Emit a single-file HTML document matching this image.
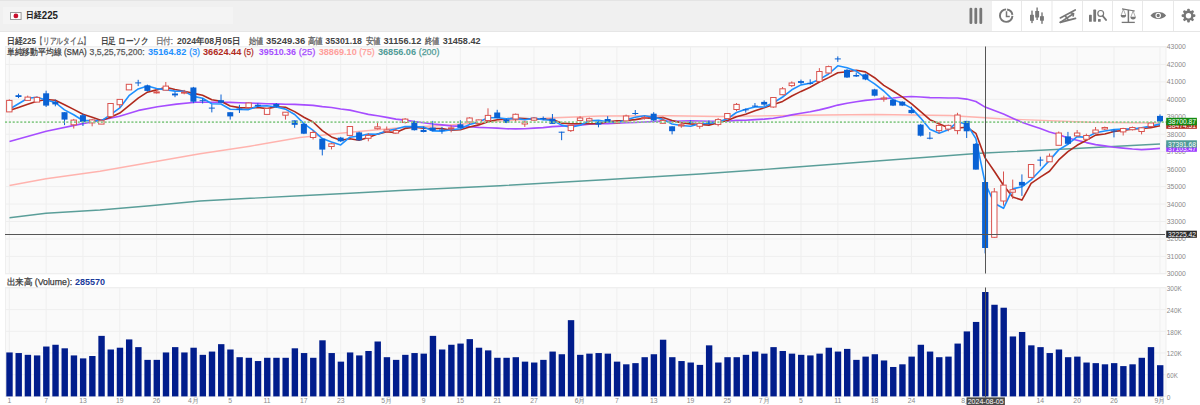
<!DOCTYPE html>
<html><head><meta charset="utf-8">
<style>
html,body{margin:0;padding:0;width:1200px;height:405px;overflow:hidden;background:#fff;font-family:"Liberation Sans",sans-serif;}
svg{position:absolute;left:0;top:0;}
text{font-family:"Liberation Sans",sans-serif;}
</style></head><body>
<svg width="1200" height="405" viewBox="0 0 1200 405">
<!-- header -->
<rect x="0" y="0" width="1200" height="32" fill="#f0f0f0"/>
<rect x="0" y="0" width="1200" height="1" fill="#e4e4e4"/>
<rect x="0" y="31" width="1200" height="1" fill="#e6e6e6"/>
<rect x="3" y="7" width="230" height="17" fill="#f4f4f4"/>
<rect x="10.5" y="12.5" width="10.6" height="7" fill="#fff" stroke="#9a9a9a" stroke-width="1"/>
<circle cx="15.9" cy="15.9" r="2.4" fill="#c8102e"/>
<text x="25.9" y="18.4" font-size="9.4" font-weight="bold" fill="#222" textLength="15.6" lengthAdjust="spacingAndGlyphs">日経</text>
<text x="41.8" y="19" font-size="10" font-weight="bold" fill="#222" textLength="16.2" lengthAdjust="spacingAndGlyphs">225</text>
<rect x="992" y="1" width="208" height="30" fill="#fff"/>
<g fill="#e8e8e8">
<rect x="1021" y="1" width="1" height="30"/><rect x="1051.5" y="1" width="1" height="30"/>
<rect x="1082" y="1" width="1" height="30"/><rect x="1112" y="1" width="1" height="30"/>
<rect x="1142" y="1" width="1" height="30"/><rect x="1173" y="1" width="1" height="30"/>
</g>
<g fill="#777" stroke="none">
<rect x="969.5" y="7.8" width="2.8" height="16.2" rx="1.3"/>
<rect x="974.4" y="7.8" width="2.8" height="16.2" rx="1.3"/>
<rect x="979.4" y="7.8" width="2.8" height="16.2" rx="1.3"/>
</g>
<g stroke="#777" fill="none">
<path d="M1006.1,9.4 A6.25,6.25 0 1 0 1012.45,15.9" stroke-width="1.9"/>
<path d="M1007.1,9.5 A6.25,6.25 0 0 1 1012.4,14.9" stroke-width="1.9"/>
<path d="M1006.5,11.3 V16.4 H1009.8" stroke-width="1.5"/>
</g>
<g fill="#777">
<rect x="1031.3" y="10.6" width="1.4" height="12.5"/><rect x="1030" y="14.8" width="3.9" height="6"/>
<rect x="1036.4" y="7.5" width="1.4" height="12.5"/><rect x="1035.2" y="11" width="3.9" height="6.5"/>
<rect x="1041.3" y="12.4" width="1.4" height="11.4"/><rect x="1040" y="16.2" width="3.9" height="4.5"/>
</g>
<g stroke="#777" fill="none" stroke-width="1.7" stroke-linecap="round">
<path d="M1060.3,17.9 L1075.2,9.9"/>
<path d="M1060.3,22.4 L1075.5,18.4"/>
<path d="M1060.3,22.4 L1073.4,13.7"/>
<path d="M1065.5,16.3 L1068.2,19.8"/>
<path d="M1071,12.8 L1073.4,13.7 L1073.2,16"/>
</g>
<g fill="#777">
<rect x="1089" y="14.8" width="2.8" height="7" rx="0.6"/>
<rect x="1093.3" y="9.6" width="2.8" height="12.1" rx="0.6"/>
<rect x="1098" y="18.9" width="2.7" height="2.8" rx="0.5"/>
</g>
<circle cx="1100.7" cy="13.4" r="2.9" fill="none" stroke="#777" stroke-width="1.2"/>
<path d="M1102.8,16 L1106,19.9" stroke="#777" stroke-width="1.9" stroke-linecap="round"/>
<g stroke="#777" fill="none">
<path d="M1122,8.9 L1134.8,11" stroke-width="1.2"/>
<path d="M1128.4,10 V22.4" stroke-width="1.5"/>
<path d="M1121.7,22.4 H1134.8" stroke-width="1.3"/>
<path d="M1123.4,9.3 L1121.2,15 M1123.4,9.3 L1125.6,15 M1133.1,10.9 L1130.9,16.9 M1133.1,10.9 L1135.3,16.9" stroke-width="0.6"/>
</g>
<g fill="#777">
<path d="M1120.7,14.9 H1126.1 A2.7,2.6 0 0 1 1120.7,14.9 Z"/>
<path d="M1130.4,16.8 H1135.8 A2.7,2.6 0 0 1 1130.4,16.8 Z"/>
<path d="M1150.5,15.5 C1153.5,10.9 1163.1,10.9 1166.1,15.5 C1163.1,20.1 1153.5,20.1 1150.5,15.5 Z"/>
</g>
<circle cx="1158.2" cy="15.5" r="2.2" fill="none" stroke="#fff" stroke-width="1.1"/>
<g transform="translate(1188.5,15.7)" fill="#777">
<circle r="5.1" />
<g id="t"><rect x="-1.35" y="-6.9" width="2.7" height="3" rx="1"/></g>
<use href="#t" transform="rotate(45)"/><use href="#t" transform="rotate(90)"/><use href="#t" transform="rotate(135)"/>
<use href="#t" transform="rotate(180)"/><use href="#t" transform="rotate(225)"/><use href="#t" transform="rotate(270)"/><use href="#t" transform="rotate(315)"/>
<circle r="2.7" fill="#fff"/>
</g>
<rect x="5.5" y="46.5" width="1160.5" height="227" fill="#fafafa" stroke="#efefef" stroke-width="1"/>
<rect x="5.5" y="287.5" width="1160.5" height="109" fill="#fafafa" stroke="#efefef" stroke-width="1"/>
<line x1="5" x2="1166" y1="273.85" y2="273.85" stroke="#efefef" stroke-width="1"/>
<line x1="5" x2="1166" y1="256.40" y2="256.40" stroke="#efefef" stroke-width="1"/>
<line x1="5" x2="1166" y1="238.95" y2="238.95" stroke="#efefef" stroke-width="1"/>
<line x1="5" x2="1166" y1="221.50" y2="221.50" stroke="#efefef" stroke-width="1"/>
<line x1="5" x2="1166" y1="204.05" y2="204.05" stroke="#efefef" stroke-width="1"/>
<line x1="5" x2="1166" y1="186.60" y2="186.60" stroke="#efefef" stroke-width="1"/>
<line x1="5" x2="1166" y1="169.15" y2="169.15" stroke="#efefef" stroke-width="1"/>
<line x1="5" x2="1166" y1="151.70" y2="151.70" stroke="#efefef" stroke-width="1"/>
<line x1="5" x2="1166" y1="134.25" y2="134.25" stroke="#efefef" stroke-width="1"/>
<line x1="5" x2="1166" y1="116.80" y2="116.80" stroke="#efefef" stroke-width="1"/>
<line x1="5" x2="1166" y1="99.35" y2="99.35" stroke="#efefef" stroke-width="1"/>
<line x1="5" x2="1166" y1="81.90" y2="81.90" stroke="#efefef" stroke-width="1"/>
<line x1="5" x2="1166" y1="64.45" y2="64.45" stroke="#efefef" stroke-width="1"/>
<line x1="5" x2="1166" y1="47.00" y2="47.00" stroke="#efefef" stroke-width="1"/>
<line x1="5" x2="1166" y1="396.40" y2="396.40" stroke="#efefef" stroke-width="1"/>
<line x1="5" x2="1166" y1="374.70" y2="374.70" stroke="#efefef" stroke-width="1"/>
<line x1="5" x2="1166" y1="353.00" y2="353.00" stroke="#efefef" stroke-width="1"/>
<line x1="5" x2="1166" y1="331.30" y2="331.30" stroke="#efefef" stroke-width="1"/>
<line x1="5" x2="1166" y1="309.60" y2="309.60" stroke="#efefef" stroke-width="1"/>
<line x1="5" x2="1166" y1="287.90" y2="287.90" stroke="#efefef" stroke-width="1"/>
<line x1="9.30" x2="9.30" y1="46.5" y2="273.5" stroke="#efefef" stroke-width="1"/>
<line x1="9.30" x2="9.30" y1="287.5" y2="397" stroke="#efefef" stroke-width="1"/>
<line x1="46.12" x2="46.12" y1="46.5" y2="273.5" stroke="#efefef" stroke-width="1"/>
<line x1="46.12" x2="46.12" y1="287.5" y2="397" stroke="#efefef" stroke-width="1"/>
<line x1="82.94" x2="82.94" y1="46.5" y2="273.5" stroke="#efefef" stroke-width="1"/>
<line x1="82.94" x2="82.94" y1="287.5" y2="397" stroke="#efefef" stroke-width="1"/>
<line x1="119.77" x2="119.77" y1="46.5" y2="273.5" stroke="#efefef" stroke-width="1"/>
<line x1="119.77" x2="119.77" y1="287.5" y2="397" stroke="#efefef" stroke-width="1"/>
<line x1="156.59" x2="156.59" y1="46.5" y2="273.5" stroke="#efefef" stroke-width="1"/>
<line x1="156.59" x2="156.59" y1="287.5" y2="397" stroke="#efefef" stroke-width="1"/>
<line x1="193.41" x2="193.41" y1="46.5" y2="273.5" stroke="#efefef" stroke-width="1"/>
<line x1="193.41" x2="193.41" y1="287.5" y2="397" stroke="#efefef" stroke-width="1"/>
<line x1="230.23" x2="230.23" y1="46.5" y2="273.5" stroke="#efefef" stroke-width="1"/>
<line x1="230.23" x2="230.23" y1="287.5" y2="397" stroke="#efefef" stroke-width="1"/>
<line x1="267.06" x2="267.06" y1="46.5" y2="273.5" stroke="#efefef" stroke-width="1"/>
<line x1="267.06" x2="267.06" y1="287.5" y2="397" stroke="#efefef" stroke-width="1"/>
<line x1="303.88" x2="303.88" y1="46.5" y2="273.5" stroke="#efefef" stroke-width="1"/>
<line x1="303.88" x2="303.88" y1="287.5" y2="397" stroke="#efefef" stroke-width="1"/>
<line x1="340.70" x2="340.70" y1="46.5" y2="273.5" stroke="#efefef" stroke-width="1"/>
<line x1="340.70" x2="340.70" y1="287.5" y2="397" stroke="#efefef" stroke-width="1"/>
<line x1="386.73" x2="386.73" y1="46.5" y2="273.5" stroke="#efefef" stroke-width="1"/>
<line x1="386.73" x2="386.73" y1="287.5" y2="397" stroke="#efefef" stroke-width="1"/>
<line x1="423.55" x2="423.55" y1="46.5" y2="273.5" stroke="#efefef" stroke-width="1"/>
<line x1="423.55" x2="423.55" y1="287.5" y2="397" stroke="#efefef" stroke-width="1"/>
<line x1="460.37" x2="460.37" y1="46.5" y2="273.5" stroke="#efefef" stroke-width="1"/>
<line x1="460.37" x2="460.37" y1="287.5" y2="397" stroke="#efefef" stroke-width="1"/>
<line x1="497.20" x2="497.20" y1="46.5" y2="273.5" stroke="#efefef" stroke-width="1"/>
<line x1="497.20" x2="497.20" y1="287.5" y2="397" stroke="#efefef" stroke-width="1"/>
<line x1="534.02" x2="534.02" y1="46.5" y2="273.5" stroke="#efefef" stroke-width="1"/>
<line x1="534.02" x2="534.02" y1="287.5" y2="397" stroke="#efefef" stroke-width="1"/>
<line x1="580.05" x2="580.05" y1="46.5" y2="273.5" stroke="#efefef" stroke-width="1"/>
<line x1="580.05" x2="580.05" y1="287.5" y2="397" stroke="#efefef" stroke-width="1"/>
<line x1="616.87" x2="616.87" y1="46.5" y2="273.5" stroke="#efefef" stroke-width="1"/>
<line x1="616.87" x2="616.87" y1="287.5" y2="397" stroke="#efefef" stroke-width="1"/>
<line x1="653.69" x2="653.69" y1="46.5" y2="273.5" stroke="#efefef" stroke-width="1"/>
<line x1="653.69" x2="653.69" y1="287.5" y2="397" stroke="#efefef" stroke-width="1"/>
<line x1="690.51" x2="690.51" y1="46.5" y2="273.5" stroke="#efefef" stroke-width="1"/>
<line x1="690.51" x2="690.51" y1="287.5" y2="397" stroke="#efefef" stroke-width="1"/>
<line x1="727.34" x2="727.34" y1="46.5" y2="273.5" stroke="#efefef" stroke-width="1"/>
<line x1="727.34" x2="727.34" y1="287.5" y2="397" stroke="#efefef" stroke-width="1"/>
<line x1="764.16" x2="764.16" y1="46.5" y2="273.5" stroke="#efefef" stroke-width="1"/>
<line x1="764.16" x2="764.16" y1="287.5" y2="397" stroke="#efefef" stroke-width="1"/>
<line x1="800.98" x2="800.98" y1="46.5" y2="273.5" stroke="#efefef" stroke-width="1"/>
<line x1="800.98" x2="800.98" y1="287.5" y2="397" stroke="#efefef" stroke-width="1"/>
<line x1="837.80" x2="837.80" y1="46.5" y2="273.5" stroke="#efefef" stroke-width="1"/>
<line x1="837.80" x2="837.80" y1="287.5" y2="397" stroke="#efefef" stroke-width="1"/>
<line x1="874.63" x2="874.63" y1="46.5" y2="273.5" stroke="#efefef" stroke-width="1"/>
<line x1="874.63" x2="874.63" y1="287.5" y2="397" stroke="#efefef" stroke-width="1"/>
<line x1="911.45" x2="911.45" y1="46.5" y2="273.5" stroke="#efefef" stroke-width="1"/>
<line x1="911.45" x2="911.45" y1="287.5" y2="397" stroke="#efefef" stroke-width="1"/>
<line x1="966.68" x2="966.68" y1="46.5" y2="273.5" stroke="#efefef" stroke-width="1"/>
<line x1="966.68" x2="966.68" y1="287.5" y2="397" stroke="#efefef" stroke-width="1"/>
<line x1="1040.33" x2="1040.33" y1="46.5" y2="273.5" stroke="#efefef" stroke-width="1"/>
<line x1="1040.33" x2="1040.33" y1="287.5" y2="397" stroke="#efefef" stroke-width="1"/>
<line x1="1077.15" x2="1077.15" y1="46.5" y2="273.5" stroke="#efefef" stroke-width="1"/>
<line x1="1077.15" x2="1077.15" y1="287.5" y2="397" stroke="#efefef" stroke-width="1"/>
<line x1="1113.97" x2="1113.97" y1="46.5" y2="273.5" stroke="#efefef" stroke-width="1"/>
<line x1="1113.97" x2="1113.97" y1="287.5" y2="397" stroke="#efefef" stroke-width="1"/>
<line x1="1160.00" x2="1160.00" y1="46.5" y2="273.5" stroke="#efefef" stroke-width="1"/>
<line x1="1160.00" x2="1160.00" y1="287.5" y2="397" stroke="#efefef" stroke-width="1"/>
<polyline points="9.5,217.7 46.0,213.3 100.0,210.0 150.0,205.7 200.0,201.0 250.0,198.3 300.0,195.7 350.0,193.3 400.0,190.5 500.0,185.7 600.0,180.0 700.0,174.0 780.0,168.3 880.0,160.7 980.0,153.3 1080.0,148.3 1160.0,144.0" fill="none" stroke="#5a9e99" stroke-width="1.4" stroke-linejoin="round"/>
<polyline points="9.5,185.5 46.0,178.8 100.0,171.2 150.0,162.5 200.0,153.8 250.0,146.2 300.0,137.5 350.0,132.3 400.0,127.7 450.0,125.0 500.0,121.0 550.0,118.0 600.0,116.0 670.0,115.8 720.0,116.5 800.0,115.3 875.0,114.5 950.0,115.5 1000.0,118.7 1090.0,122.3 1160.0,123.0" fill="none" stroke="#ffb3ae" stroke-width="1.4" stroke-linejoin="round"/>
<polyline points="9.5,141.6 46.2,131.3 81.5,123.9 100.5,120.2 119.5,116.3 138.5,110.4 157.5,106.8 176.5,104.1 195.5,102.2 217.0,102.2 230.2,102.4 239.4,102.8 248.6,103.0 257.9,103.4 267.1,103.8 276.3,103.9 285.5,104.2 294.7,104.4 303.9,104.9 313.1,105.4 322.3,106.6 331.5,107.5 340.7,109.0 349.9,110.1 359.1,112.3 368.3,114.4 377.5,115.8 386.7,117.4 395.9,119.1 405.1,120.1 414.3,121.6 423.6,122.8 432.8,124.0 442.0,124.9 451.2,125.9 460.4,126.4 469.6,126.7 478.8,127.4 488.0,127.8 497.2,128.1 506.4,128.8 515.6,128.9 524.8,128.8 534.0,128.1 543.2,127.6 552.4,126.6 561.6,126.1 570.8,125.5 580.0,125.1 589.3,124.3 598.5,123.8 607.7,123.6 616.9,123.3 626.1,122.7 635.3,122.5 644.5,122.0 653.7,121.5 662.9,121.1 672.1,121.2 681.3,121.0 690.5,120.8 699.7,121.0 708.9,121.2 718.1,121.3 727.3,121.2 736.5,120.4 745.7,120.3 755.0,119.6 764.2,119.1 773.4,118.2 782.6,116.8 791.8,114.9 801.0,113.2 810.2,111.8 819.4,109.9 828.6,107.6 837.8,105.1 847.0,103.3 856.2,101.7 865.4,100.4 874.6,99.5 883.8,98.6 893.0,98.0 902.2,97.0 911.4,96.5 920.7,97.0 929.9,97.6 939.1,97.7 948.3,98.0 957.5,98.0 966.7,99.1 975.9,101.5 985.1,107.1 994.3,110.6 1003.5,114.1 1012.7,118.2 1021.9,122.3 1031.1,125.5 1040.3,128.6 1049.5,132.0 1058.7,134.6 1067.9,138.0 1077.1,140.2 1086.4,142.6 1095.6,144.6 1104.8,145.9 1114.0,147.2 1123.2,148.1 1132.4,149.0 1141.6,149.6 1150.8,149.1 1160.0,148.4" fill="none" stroke="#a64dff" stroke-width="1.6" stroke-linejoin="round"/>
<polyline points="9.3,110.6 18.5,107.4 27.7,104.3 36.9,101.2 46.1,99.5 55.3,100.3 64.5,104.8 73.7,109.4 82.9,114.3 92.2,117.2 101.4,120.5 110.6,117.2 119.8,113.1 129.0,105.6 138.2,98.2 147.4,92.2 156.6,89.9 165.8,87.3 175.0,89.5 184.2,91.3 193.4,93.4 202.6,95.3 211.8,99.7 221.0,101.2 230.2,106.0 239.4,107.6 248.6,108.0 257.9,107.5 267.1,108.6 276.3,106.7 285.5,107.3 294.7,111.6 303.9,117.2 313.1,122.0 322.3,130.6 331.5,136.9 340.7,140.2 349.9,138.7 359.1,140.3 368.3,137.5 377.5,134.1 386.7,131.8 395.9,132.6 405.1,128.4 414.3,127.3 423.6,128.3 432.8,128.5 442.0,128.5 451.2,130.3 460.4,129.8 469.6,127.0 478.8,124.9 488.0,121.8 497.2,119.8 506.4,118.8 515.6,118.1 524.8,118.5 534.0,119.1 543.2,119.3 552.4,119.5 561.6,123.1 570.8,123.7 580.0,123.7 589.3,123.7 598.5,123.8 607.7,121.7 616.9,120.9 626.1,120.5 635.3,119.6 644.5,118.1 653.7,117.9 662.9,117.6 672.1,120.6 681.3,122.8 690.5,123.9 699.7,124.5 708.9,125.1 718.1,122.8 727.3,120.5 736.5,116.8 745.7,114.2 755.0,110.8 764.2,107.8 773.4,104.6 782.6,101.4 791.8,96.0 801.0,91.4 810.2,87.2 819.4,82.0 828.6,77.6 837.8,72.8 847.0,71.7 856.2,70.3 865.4,71.9 874.6,77.7 883.8,85.4 893.0,91.0 902.2,96.9 911.4,103.6 920.7,111.6 929.9,119.7 939.1,123.7 948.3,127.7 957.5,128.0 966.7,127.2 975.9,133.3 985.1,157.9 994.3,171.2 1003.5,185.2 1012.7,196.9 1021.9,200.1 1031.1,183.4 1040.3,177.1 1049.5,171.3 1058.7,159.9 1067.9,151.6 1077.1,145.3 1086.4,140.3 1095.6,135.1 1104.8,134.0 1114.0,131.4 1123.2,130.5 1132.4,128.9 1141.6,128.5 1150.8,127.6 1160.0,125.7" fill="none" stroke="#b02a1e" stroke-width="1.6" stroke-linejoin="round"/>
<polyline points="9.3,109.2 18.5,103.8 27.7,98.2 36.9,97.2 46.1,100.0 55.3,102.5 64.5,109.9 73.7,114.7 82.9,120.5 92.2,120.6 101.4,120.9 110.6,114.7 119.8,107.9 129.0,95.7 138.2,88.9 147.4,86.1 156.6,88.6 165.8,89.6 175.0,91.1 184.2,91.2 193.4,96.4 202.6,98.3 211.8,103.7 221.0,104.0 230.2,109.2 239.4,109.5 248.6,109.6 257.9,106.1 267.1,105.8 276.3,107.0 285.5,109.1 294.7,114.5 303.9,123.6 313.1,130.3 322.3,138.6 331.5,142.0 340.7,144.9 349.9,137.2 359.1,136.0 368.3,134.1 377.5,134.2 386.7,130.7 395.9,129.1 405.1,126.5 414.3,126.6 423.6,127.1 432.8,130.9 442.0,131.1 451.2,129.7 460.4,128.8 469.6,124.6 478.8,121.9 488.0,117.8 497.2,117.8 506.4,118.8 515.6,118.4 524.8,119.8 534.0,118.1 543.2,119.7 552.4,120.3 561.6,125.1 570.8,127.2 580.0,125.2 589.3,120.7 598.5,120.4 607.7,121.7 616.9,122.7 626.1,119.8 635.3,117.2 644.5,115.7 653.7,117.2 662.9,119.4 672.1,124.0 681.3,125.5 690.5,126.3 699.7,123.7 708.9,123.2 718.1,122.1 727.3,118.8 736.5,112.5 745.7,109.3 755.0,106.9 764.2,107.0 773.4,102.8 782.6,97.0 791.8,89.8 801.0,84.9 810.2,83.2 819.4,79.4 828.6,74.0 837.8,65.8 847.0,67.8 856.2,71.1 865.4,77.8 874.6,83.9 883.8,91.0 893.0,99.8 902.2,103.1 911.4,108.1 920.7,118.1 929.9,129.2 939.1,133.3 948.3,129.8 957.5,121.9 966.7,123.9 975.9,138.6 985.1,183.0 994.3,203.2 1003.5,208.3 1012.7,188.9 1021.9,186.8 1031.1,179.9 1040.3,170.2 1049.5,160.4 1058.7,149.9 1067.9,144.3 1077.1,136.6 1086.4,137.4 1095.6,132.8 1104.8,131.0 1114.0,129.5 1123.2,129.0 1132.4,129.0 1141.6,127.9 1150.8,126.1 1160.0,124.1" fill="none" stroke="#1e90ff" stroke-width="1.6" stroke-linejoin="round"/>
<line x1="9.30" x2="9.30" y1="99.30" y2="111.90" stroke="#d9534f" stroke-width="1"/>
<rect x="6.60" y="100.40" width="5.4" height="11.50" fill="#fff" stroke="#d9534f" stroke-width="1"/>
<line x1="18.51" x2="18.51" y1="93.70" y2="98.10" stroke="#0a62d4" stroke-width="1"/>
<rect x="15.51" y="95.20" width="6" height="1.80" fill="#0a62d4"/>
<line x1="27.71" x2="27.71" y1="95.60" y2="100.40" stroke="#d9534f" stroke-width="1"/>
<rect x="25.01" y="97.10" width="5.4" height="3.30" fill="#fff" stroke="#d9534f" stroke-width="1"/>
<line x1="36.92" x2="36.92" y1="96.40" y2="102.10" stroke="#d9534f" stroke-width="1"/>
<rect x="34.22" y="97.40" width="5.4" height="4.70" fill="#fff" stroke="#d9534f" stroke-width="1"/>
<line x1="46.12" x2="46.12" y1="90.70" y2="107.00" stroke="#0a62d4" stroke-width="1"/>
<rect x="43.12" y="93.30" width="6" height="12.30" fill="#0a62d4"/>
<line x1="55.33" x2="55.33" y1="99.60" y2="106.30" stroke="#0a62d4" stroke-width="1"/>
<rect x="52.33" y="101.90" width="6" height="2.50" fill="#0a62d4"/>
<line x1="64.53" x2="64.53" y1="112.20" y2="125.10" stroke="#0a62d4" stroke-width="1"/>
<rect x="61.53" y="112.20" width="6" height="7.40" fill="#0a62d4"/>
<line x1="73.74" x2="73.74" y1="118.90" y2="128.50" stroke="#d9534f" stroke-width="1"/>
<rect x="71.04" y="120.10" width="5.4" height="4.70" fill="#fff" stroke="#d9534f" stroke-width="1"/>
<line x1="82.94" x2="82.94" y1="113.70" y2="126.00" stroke="#0a62d4" stroke-width="1"/>
<rect x="79.94" y="115.20" width="6" height="6.70" fill="#0a62d4"/>
<line x1="92.15" x2="92.15" y1="118.90" y2="126.30" stroke="#d9534f" stroke-width="1"/>
<rect x="89.45" y="119.90" width="5.4" height="3.00" fill="#fff" stroke="#d9534f" stroke-width="1"/>
<line x1="101.36" x2="101.36" y1="120.80" y2="124.10" stroke="#d9534f" stroke-width="1"/>
<rect x="98.66" y="120.80" width="5.4" height="3.30" fill="#fff" stroke="#d9534f" stroke-width="1"/>
<line x1="110.56" x2="110.56" y1="103.00" y2="116.70" stroke="#d9534f" stroke-width="1"/>
<rect x="107.86" y="103.50" width="5.4" height="13.10" fill="#fff" stroke="#d9534f" stroke-width="1"/>
<line x1="119.77" x2="119.77" y1="99.40" y2="108.00" stroke="#d9534f" stroke-width="1"/>
<rect x="117.07" y="99.40" width="5.4" height="5.30" fill="#fff" stroke="#d9534f" stroke-width="1"/>
<line x1="128.97" x2="128.97" y1="84.30" y2="89.90" stroke="#d9534f" stroke-width="1"/>
<rect x="126.27" y="84.30" width="5.4" height="5.60" fill="#fff" stroke="#d9534f" stroke-width="1"/>
<line x1="138.18" x2="138.18" y1="79.80" y2="86.10" stroke="#0a62d4" stroke-width="1"/>
<rect x="135.18" y="82.40" width="6" height="1.00" fill="#0a62d4"/>
<line x1="147.38" x2="147.38" y1="84.60" y2="91.60" stroke="#0a62d4" stroke-width="1"/>
<rect x="144.38" y="85.40" width="6" height="5.50" fill="#0a62d4"/>
<line x1="156.59" x2="156.59" y1="89.80" y2="93.50" stroke="#d9534f" stroke-width="1"/>
<rect x="153.89" y="91.90" width="5.4" height="1.00" fill="#fff" stroke="#d9534f" stroke-width="1"/>
<line x1="165.80" x2="165.80" y1="82.00" y2="90.20" stroke="#d9534f" stroke-width="1"/>
<rect x="163.10" y="86.10" width="5.4" height="4.10" fill="#fff" stroke="#d9534f" stroke-width="1"/>
<line x1="175.00" x2="175.00" y1="91.70" y2="97.20" stroke="#0a62d4" stroke-width="1"/>
<rect x="172.00" y="93.50" width="6" height="1.90" fill="#0a62d4"/>
<line x1="184.21" x2="184.21" y1="89.90" y2="94.30" stroke="#d9534f" stroke-width="1"/>
<rect x="181.51" y="92.10" width="5.4" height="1.00" fill="#fff" stroke="#d9534f" stroke-width="1"/>
<line x1="193.41" x2="193.41" y1="86.90" y2="103.20" stroke="#0a62d4" stroke-width="1"/>
<rect x="190.41" y="87.50" width="6" height="14.20" fill="#0a62d4"/>
<line x1="202.62" x2="202.62" y1="98.30" y2="103.50" stroke="#0a62d4" stroke-width="1"/>
<rect x="199.62" y="100.20" width="6" height="1.00" fill="#0a62d4"/>
<line x1="211.82" x2="211.82" y1="104.30" y2="112.40" stroke="#0a62d4" stroke-width="1"/>
<rect x="208.82" y="107.60" width="6" height="1.00" fill="#0a62d4"/>
<line x1="221.03" x2="221.03" y1="94.50" y2="102.80" stroke="#0a62d4" stroke-width="1"/>
<rect x="218.03" y="100.20" width="6" height="2.50" fill="#0a62d4"/>
<line x1="230.23" x2="230.23" y1="112.20" y2="119.60" stroke="#0a62d4" stroke-width="1"/>
<rect x="227.23" y="112.20" width="6" height="4.20" fill="#0a62d4"/>
<line x1="239.44" x2="239.44" y1="104.80" y2="113.00" stroke="#0a62d4" stroke-width="1"/>
<rect x="236.44" y="108.50" width="6" height="1.00" fill="#0a62d4"/>
<line x1="248.65" x2="248.65" y1="102.60" y2="108.50" stroke="#d9534f" stroke-width="1"/>
<rect x="245.95" y="103.00" width="5.4" height="4.50" fill="#fff" stroke="#d9534f" stroke-width="1"/>
<line x1="257.85" x2="257.85" y1="103.30" y2="107.00" stroke="#0a62d4" stroke-width="1"/>
<rect x="254.85" y="104.80" width="6" height="1.20" fill="#0a62d4"/>
<line x1="267.06" x2="267.06" y1="108.50" y2="114.40" stroke="#d9534f" stroke-width="1"/>
<rect x="264.36" y="108.50" width="5.4" height="5.90" fill="#fff" stroke="#d9534f" stroke-width="1"/>
<line x1="276.26" x2="276.26" y1="103.00" y2="107.50" stroke="#0a62d4" stroke-width="1"/>
<rect x="273.26" y="104.00" width="6" height="2.60" fill="#0a62d4"/>
<line x1="285.47" x2="285.47" y1="112.20" y2="119.60" stroke="#d9534f" stroke-width="1"/>
<rect x="282.77" y="112.20" width="5.4" height="3.00" fill="#fff" stroke="#d9534f" stroke-width="1"/>
<line x1="294.67" x2="294.67" y1="120.40" y2="127.80" stroke="#0a62d4" stroke-width="1"/>
<rect x="291.67" y="120.40" width="6" height="4.40" fill="#0a62d4"/>
<line x1="303.88" x2="303.88" y1="123.40" y2="134.10" stroke="#0a62d4" stroke-width="1"/>
<rect x="300.88" y="123.80" width="6" height="9.90" fill="#0a62d4"/>
<line x1="313.08" x2="313.08" y1="130.10" y2="139.50" stroke="#d9534f" stroke-width="1"/>
<rect x="310.38" y="132.50" width="5.4" height="5.00" fill="#fff" stroke="#d9534f" stroke-width="1"/>
<line x1="322.29" x2="322.29" y1="138.70" y2="155.40" stroke="#0a62d4" stroke-width="1"/>
<rect x="319.29" y="138.70" width="6" height="10.90" fill="#0a62d4"/>
<line x1="331.50" x2="331.50" y1="142.80" y2="149.40" stroke="#d9534f" stroke-width="1"/>
<rect x="328.80" y="143.80" width="5.4" height="2.70" fill="#fff" stroke="#d9534f" stroke-width="1"/>
<line x1="340.70" x2="340.70" y1="136.90" y2="141.90" stroke="#0a62d4" stroke-width="1"/>
<rect x="337.70" y="137.60" width="6" height="3.70" fill="#0a62d4"/>
<line x1="349.91" x2="349.91" y1="126.50" y2="135.40" stroke="#d9534f" stroke-width="1"/>
<rect x="347.21" y="126.50" width="5.4" height="8.90" fill="#fff" stroke="#d9534f" stroke-width="1"/>
<line x1="359.11" x2="359.11" y1="131.70" y2="140.60" stroke="#0a62d4" stroke-width="1"/>
<rect x="356.11" y="132.40" width="6" height="7.90" fill="#0a62d4"/>
<line x1="368.32" x2="368.32" y1="133.10" y2="141.30" stroke="#d9534f" stroke-width="1"/>
<rect x="365.62" y="135.40" width="5.4" height="2.90" fill="#fff" stroke="#d9534f" stroke-width="1"/>
<line x1="377.52" x2="377.52" y1="122.80" y2="129.40" stroke="#d9534f" stroke-width="1"/>
<rect x="374.82" y="126.90" width="5.4" height="1.80" fill="#fff" stroke="#d9534f" stroke-width="1"/>
<line x1="386.73" x2="386.73" y1="126.50" y2="132.40" stroke="#d9534f" stroke-width="1"/>
<rect x="384.03" y="129.90" width="5.4" height="1.50" fill="#fff" stroke="#d9534f" stroke-width="1"/>
<line x1="395.94" x2="395.94" y1="128.40" y2="133.40" stroke="#d9534f" stroke-width="1"/>
<rect x="393.24" y="130.50" width="5.4" height="2.60" fill="#fff" stroke="#d9534f" stroke-width="1"/>
<line x1="405.14" x2="405.14" y1="118.00" y2="123.50" stroke="#d9534f" stroke-width="1"/>
<rect x="402.44" y="119.10" width="5.4" height="3.40" fill="#fff" stroke="#d9534f" stroke-width="1"/>
<line x1="414.35" x2="414.35" y1="120.60" y2="130.50" stroke="#0a62d4" stroke-width="1"/>
<rect x="411.35" y="121.60" width="6" height="8.60" fill="#0a62d4"/>
<line x1="423.55" x2="423.55" y1="126.50" y2="132.40" stroke="#0a62d4" stroke-width="1"/>
<rect x="420.55" y="129.90" width="6" height="2.10" fill="#0a62d4"/>
<line x1="432.76" x2="432.76" y1="120.90" y2="131.30" stroke="#0a62d4" stroke-width="1"/>
<rect x="429.76" y="127.60" width="6" height="3.00" fill="#0a62d4"/>
<line x1="441.96" x2="441.96" y1="126.90" y2="133.80" stroke="#0a62d4" stroke-width="1"/>
<rect x="438.96" y="129.50" width="6" height="1.10" fill="#0a62d4"/>
<line x1="451.17" x2="451.17" y1="125.40" y2="132.30" stroke="#d9534f" stroke-width="1"/>
<rect x="448.47" y="127.90" width="5.4" height="1.00" fill="#fff" stroke="#d9534f" stroke-width="1"/>
<line x1="460.37" x2="460.37" y1="120.20" y2="128.30" stroke="#0a62d4" stroke-width="1"/>
<rect x="457.37" y="124.30" width="6" height="3.60" fill="#0a62d4"/>
<line x1="469.58" x2="469.58" y1="117.20" y2="123.90" stroke="#d9534f" stroke-width="1"/>
<rect x="466.88" y="118.00" width="5.4" height="4.00" fill="#fff" stroke="#d9534f" stroke-width="1"/>
<line x1="478.79" x2="478.79" y1="119.50" y2="123.90" stroke="#d9534f" stroke-width="1"/>
<rect x="476.09" y="119.90" width="5.4" height="3.50" fill="#fff" stroke="#d9534f" stroke-width="1"/>
<line x1="487.99" x2="487.99" y1="108.30" y2="121.40" stroke="#d9534f" stroke-width="1"/>
<rect x="485.29" y="115.40" width="5.4" height="5.10" fill="#fff" stroke="#d9534f" stroke-width="1"/>
<line x1="497.20" x2="497.20" y1="109.80" y2="118.40" stroke="#0a62d4" stroke-width="1"/>
<rect x="494.20" y="112.50" width="6" height="5.50" fill="#0a62d4"/>
<line x1="506.40" x2="506.40" y1="118.70" y2="123.10" stroke="#0a62d4" stroke-width="1"/>
<rect x="503.40" y="119.40" width="6" height="3.50" fill="#0a62d4"/>
<line x1="515.61" x2="515.61" y1="113.50" y2="122.40" stroke="#d9534f" stroke-width="1"/>
<rect x="512.91" y="114.30" width="5.4" height="4.70" fill="#fff" stroke="#d9534f" stroke-width="1"/>
<line x1="524.81" x2="524.81" y1="120.90" y2="126.90" stroke="#d9534f" stroke-width="1"/>
<rect x="522.11" y="122.10" width="5.4" height="1.90" fill="#fff" stroke="#d9534f" stroke-width="1"/>
<line x1="534.02" x2="534.02" y1="117.20" y2="121.00" stroke="#d9534f" stroke-width="1"/>
<rect x="531.32" y="118.00" width="5.4" height="2.20" fill="#fff" stroke="#d9534f" stroke-width="1"/>
<line x1="543.22" x2="543.22" y1="116.50" y2="120.20" stroke="#0a62d4" stroke-width="1"/>
<rect x="540.22" y="118.00" width="6" height="1.00" fill="#0a62d4"/>
<line x1="552.43" x2="552.43" y1="114.00" y2="123.90" stroke="#0a62d4" stroke-width="1"/>
<rect x="549.43" y="118.70" width="6" height="5.20" fill="#0a62d4"/>
<line x1="561.64" x2="561.64" y1="131.70" y2="140.20" stroke="#0a62d4" stroke-width="1"/>
<rect x="558.64" y="131.70" width="6" height="1.00" fill="#0a62d4"/>
<line x1="570.84" x2="570.84" y1="125.40" y2="132.00" stroke="#d9534f" stroke-width="1"/>
<rect x="568.14" y="125.40" width="5.4" height="5.20" fill="#fff" stroke="#d9534f" stroke-width="1"/>
<line x1="580.05" x2="580.05" y1="116.20" y2="120.50" stroke="#d9534f" stroke-width="1"/>
<rect x="577.35" y="118.00" width="5.4" height="2.50" fill="#fff" stroke="#d9534f" stroke-width="1"/>
<line x1="589.25" x2="589.25" y1="117.50" y2="122.40" stroke="#d9534f" stroke-width="1"/>
<rect x="586.55" y="118.70" width="5.4" height="2.20" fill="#fff" stroke="#d9534f" stroke-width="1"/>
<line x1="598.46" x2="598.46" y1="120.90" y2="127.30" stroke="#0a62d4" stroke-width="1"/>
<rect x="595.46" y="121.70" width="6" height="2.90" fill="#0a62d4"/>
<line x1="607.66" x2="607.66" y1="116.20" y2="122.40" stroke="#0a62d4" stroke-width="1"/>
<rect x="604.66" y="119.00" width="6" height="2.70" fill="#0a62d4"/>
<line x1="616.87" x2="616.87" y1="120.90" y2="123.90" stroke="#d9534f" stroke-width="1"/>
<rect x="614.17" y="121.70" width="5.4" height="1.40" fill="#fff" stroke="#d9534f" stroke-width="1"/>
<line x1="626.08" x2="626.08" y1="114.60" y2="121.70" stroke="#d9534f" stroke-width="1"/>
<rect x="623.38" y="116.00" width="5.4" height="4.90" fill="#fff" stroke="#d9534f" stroke-width="1"/>
<line x1="635.28" x2="635.28" y1="110.00" y2="115.20" stroke="#0a62d4" stroke-width="1"/>
<rect x="632.28" y="113.00" width="6" height="1.00" fill="#0a62d4"/>
<line x1="644.49" x2="644.49" y1="115.90" y2="119.60" stroke="#d9534f" stroke-width="1"/>
<rect x="641.79" y="117.40" width="5.4" height="1.00" fill="#fff" stroke="#d9534f" stroke-width="1"/>
<line x1="653.69" x2="653.69" y1="112.20" y2="121.10" stroke="#0a62d4" stroke-width="1"/>
<rect x="650.69" y="113.70" width="6" height="6.70" fill="#0a62d4"/>
<line x1="662.90" x2="662.90" y1="116.70" y2="123.80" stroke="#d9534f" stroke-width="1"/>
<rect x="660.20" y="120.40" width="5.4" height="2.90" fill="#fff" stroke="#d9534f" stroke-width="1"/>
<line x1="672.10" x2="672.10" y1="126.30" y2="134.40" stroke="#0a62d4" stroke-width="1"/>
<rect x="669.10" y="126.30" width="6" height="4.90" fill="#0a62d4"/>
<line x1="681.31" x2="681.31" y1="123.30" y2="127.80" stroke="#d9534f" stroke-width="1"/>
<rect x="678.61" y="124.80" width="5.4" height="1.10" fill="#fff" stroke="#d9534f" stroke-width="1"/>
<line x1="690.51" x2="690.51" y1="120.40" y2="124.10" stroke="#0a62d4" stroke-width="1"/>
<rect x="687.51" y="121.90" width="6" height="1.00" fill="#0a62d4"/>
<line x1="699.72" x2="699.72" y1="123.30" y2="128.80" stroke="#d9534f" stroke-width="1"/>
<rect x="697.02" y="123.30" width="5.4" height="3.00" fill="#fff" stroke="#d9534f" stroke-width="1"/>
<line x1="708.93" x2="708.93" y1="120.40" y2="124.80" stroke="#0a62d4" stroke-width="1"/>
<rect x="705.93" y="122.30" width="6" height="1.00" fill="#0a62d4"/>
<line x1="718.13" x2="718.13" y1="118.10" y2="126.30" stroke="#d9534f" stroke-width="1"/>
<rect x="715.43" y="119.60" width="5.4" height="4.80" fill="#fff" stroke="#d9534f" stroke-width="1"/>
<line x1="727.34" x2="727.34" y1="113.00" y2="118.60" stroke="#d9534f" stroke-width="1"/>
<rect x="724.64" y="113.50" width="5.4" height="5.10" fill="#fff" stroke="#d9534f" stroke-width="1"/>
<line x1="736.54" x2="736.54" y1="103.00" y2="111.20" stroke="#d9534f" stroke-width="1"/>
<rect x="733.84" y="104.40" width="5.4" height="5.10" fill="#fff" stroke="#d9534f" stroke-width="1"/>
<line x1="745.75" x2="745.75" y1="108.50" y2="112.60" stroke="#0a62d4" stroke-width="1"/>
<rect x="742.75" y="109.30" width="6" height="1.00" fill="#0a62d4"/>
<line x1="754.95" x2="754.95" y1="103.00" y2="107.00" stroke="#0a62d4" stroke-width="1"/>
<rect x="751.95" y="105.60" width="6" height="1.00" fill="#0a62d4"/>
<line x1="764.16" x2="764.16" y1="100.40" y2="106.00" stroke="#0a62d4" stroke-width="1"/>
<rect x="761.16" y="101.90" width="6" height="2.70" fill="#0a62d4"/>
<line x1="773.36" x2="773.36" y1="97.00" y2="107.80" stroke="#d9534f" stroke-width="1"/>
<rect x="770.66" y="97.50" width="5.4" height="9.50" fill="#fff" stroke="#d9534f" stroke-width="1"/>
<line x1="782.57" x2="782.57" y1="87.00" y2="95.20" stroke="#d9534f" stroke-width="1"/>
<rect x="779.87" y="88.80" width="5.4" height="5.90" fill="#fff" stroke="#d9534f" stroke-width="1"/>
<line x1="791.78" x2="791.78" y1="81.40" y2="87.00" stroke="#d9534f" stroke-width="1"/>
<rect x="789.08" y="83.00" width="5.4" height="2.60" fill="#fff" stroke="#d9534f" stroke-width="1"/>
<line x1="800.98" x2="800.98" y1="79.60" y2="84.10" stroke="#0a62d4" stroke-width="1"/>
<rect x="797.98" y="81.10" width="6" height="1.80" fill="#0a62d4"/>
<line x1="810.19" x2="810.19" y1="79.30" y2="84.80" stroke="#0a62d4" stroke-width="1"/>
<rect x="807.19" y="82.90" width="6" height="1.00" fill="#0a62d4"/>
<line x1="819.39" x2="819.39" y1="68.10" y2="81.90" stroke="#d9534f" stroke-width="1"/>
<rect x="816.69" y="71.50" width="5.4" height="9.90" fill="#fff" stroke="#d9534f" stroke-width="1"/>
<line x1="828.60" x2="828.60" y1="65.60" y2="73.40" stroke="#d9534f" stroke-width="1"/>
<rect x="825.90" y="66.60" width="5.4" height="6.40" fill="#fff" stroke="#d9534f" stroke-width="1"/>
<line x1="837.80" x2="837.80" y1="56.40" y2="61.90" stroke="#0a62d4" stroke-width="1"/>
<rect x="834.80" y="58.40" width="6" height="1.00" fill="#0a62d4"/>
<line x1="847.01" x2="847.01" y1="69.10" y2="77.90" stroke="#0a62d4" stroke-width="1"/>
<rect x="844.01" y="69.80" width="6" height="7.70" fill="#0a62d4"/>
<line x1="856.22" x2="856.22" y1="72.50" y2="76.90" stroke="#0a62d4" stroke-width="1"/>
<rect x="853.22" y="75.00" width="6" height="1.50" fill="#0a62d4"/>
<line x1="865.42" x2="865.42" y1="73.50" y2="80.20" stroke="#0a62d4" stroke-width="1"/>
<rect x="862.42" y="74.30" width="6" height="5.10" fill="#0a62d4"/>
<line x1="874.63" x2="874.63" y1="88.80" y2="96.40" stroke="#0a62d4" stroke-width="1"/>
<rect x="871.63" y="89.40" width="6" height="6.30" fill="#0a62d4"/>
<line x1="883.83" x2="883.83" y1="95.70" y2="101.70" stroke="#d9534f" stroke-width="1"/>
<rect x="881.13" y="98.00" width="5.4" height="1.10" fill="#fff" stroke="#d9534f" stroke-width="1"/>
<line x1="893.04" x2="893.04" y1="99.40" y2="106.10" stroke="#0a62d4" stroke-width="1"/>
<rect x="890.04" y="99.70" width="6" height="5.90" fill="#0a62d4"/>
<line x1="902.24" x2="902.24" y1="101.20" y2="106.10" stroke="#0a62d4" stroke-width="1"/>
<rect x="899.24" y="101.70" width="6" height="3.90" fill="#0a62d4"/>
<line x1="911.45" x2="911.45" y1="106.60" y2="113.50" stroke="#0a62d4" stroke-width="1"/>
<rect x="908.45" y="109.90" width="6" height="3.20" fill="#0a62d4"/>
<line x1="920.65" x2="920.65" y1="123.90" y2="136.50" stroke="#0a62d4" stroke-width="1"/>
<rect x="917.65" y="124.60" width="6" height="11.10" fill="#0a62d4"/>
<line x1="929.86" x2="929.86" y1="132.00" y2="139.40" stroke="#0a62d4" stroke-width="1"/>
<rect x="926.86" y="137.70" width="6" height="1.00" fill="#0a62d4"/>
<line x1="939.07" x2="939.07" y1="121.70" y2="133.50" stroke="#d9534f" stroke-width="1"/>
<rect x="936.37" y="125.40" width="5.4" height="5.20" fill="#fff" stroke="#d9534f" stroke-width="1"/>
<line x1="948.27" x2="948.27" y1="124.60" y2="131.30" stroke="#d9534f" stroke-width="1"/>
<rect x="945.57" y="125.40" width="5.4" height="3.70" fill="#fff" stroke="#d9534f" stroke-width="1"/>
<line x1="957.48" x2="957.48" y1="112.80" y2="134.30" stroke="#d9534f" stroke-width="1"/>
<rect x="954.78" y="115.00" width="5.4" height="15.60" fill="#fff" stroke="#d9534f" stroke-width="1"/>
<line x1="966.68" x2="966.68" y1="120.90" y2="138.00" stroke="#0a62d4" stroke-width="1"/>
<rect x="963.68" y="120.90" width="6" height="10.40" fill="#0a62d4"/>
<line x1="975.89" x2="975.89" y1="143.00" y2="169.60" stroke="#0a62d4" stroke-width="1"/>
<rect x="972.89" y="143.80" width="6" height="25.80" fill="#0a62d4"/>
<line x1="985.09" x2="985.09" y1="181.00" y2="253.40" stroke="#0a62d4" stroke-width="1"/>
<rect x="982.09" y="182.00" width="6" height="66.00" fill="#0a62d4"/>
<line x1="994.30" x2="994.30" y1="188.00" y2="238.00" stroke="#d9534f" stroke-width="1"/>
<rect x="991.60" y="191.90" width="5.4" height="45.40" fill="#fff" stroke="#d9534f" stroke-width="1"/>
<line x1="1003.50" x2="1003.50" y1="171.50" y2="205.60" stroke="#d9534f" stroke-width="1"/>
<rect x="1000.80" y="185.10" width="5.4" height="15.90" fill="#fff" stroke="#d9534f" stroke-width="1"/>
<line x1="1012.71" x2="1012.71" y1="179.60" y2="198.90" stroke="#d9534f" stroke-width="1"/>
<rect x="1010.01" y="189.70" width="5.4" height="2.50" fill="#fff" stroke="#d9534f" stroke-width="1"/>
<line x1="1021.92" x2="1021.92" y1="174.40" y2="195.90" stroke="#0a62d4" stroke-width="1"/>
<rect x="1018.92" y="181.90" width="6" height="3.70" fill="#0a62d4"/>
<line x1="1031.12" x2="1031.12" y1="164.50" y2="177.40" stroke="#d9534f" stroke-width="1"/>
<rect x="1028.42" y="164.50" width="5.4" height="12.90" fill="#fff" stroke="#d9534f" stroke-width="1"/>
<line x1="1040.33" x2="1040.33" y1="156.70" y2="166.30" stroke="#0a62d4" stroke-width="1"/>
<rect x="1037.33" y="159.60" width="6" height="1.00" fill="#0a62d4"/>
<line x1="1049.53" x2="1049.53" y1="153.50" y2="161.80" stroke="#d9534f" stroke-width="1"/>
<rect x="1046.83" y="156.20" width="5.4" height="5.60" fill="#fff" stroke="#d9534f" stroke-width="1"/>
<line x1="1058.74" x2="1058.74" y1="131.50" y2="145.30" stroke="#d9534f" stroke-width="1"/>
<rect x="1056.04" y="133.00" width="5.4" height="12.30" fill="#fff" stroke="#d9534f" stroke-width="1"/>
<line x1="1067.94" x2="1067.94" y1="131.90" y2="144.40" stroke="#0a62d4" stroke-width="1"/>
<rect x="1064.94" y="136.40" width="6" height="7.40" fill="#0a62d4"/>
<line x1="1077.15" x2="1077.15" y1="130.00" y2="136.70" stroke="#d9534f" stroke-width="1"/>
<rect x="1074.45" y="133.00" width="5.4" height="2.90" fill="#fff" stroke="#d9534f" stroke-width="1"/>
<line x1="1086.36" x2="1086.36" y1="133.70" y2="140.40" stroke="#d9534f" stroke-width="1"/>
<rect x="1083.66" y="135.50" width="5.4" height="3.80" fill="#fff" stroke="#d9534f" stroke-width="1"/>
<line x1="1095.56" x2="1095.56" y1="127.00" y2="133.40" stroke="#d9534f" stroke-width="1"/>
<rect x="1092.86" y="130.00" width="5.4" height="3.00" fill="#fff" stroke="#d9534f" stroke-width="1"/>
<line x1="1104.77" x2="1104.77" y1="126.60" y2="130.00" stroke="#d9534f" stroke-width="1"/>
<rect x="1102.07" y="127.50" width="5.4" height="1.50" fill="#fff" stroke="#d9534f" stroke-width="1"/>
<line x1="1113.97" x2="1113.97" y1="129.30" y2="137.40" stroke="#0a62d4" stroke-width="1"/>
<rect x="1110.97" y="130.50" width="6" height="1.00" fill="#0a62d4"/>
<line x1="1123.18" x2="1123.18" y1="127.80" y2="135.50" stroke="#d9534f" stroke-width="1"/>
<rect x="1120.48" y="128.50" width="5.4" height="3.40" fill="#fff" stroke="#d9534f" stroke-width="1"/>
<line x1="1132.38" x2="1132.38" y1="126.50" y2="130.50" stroke="#d9534f" stroke-width="1"/>
<rect x="1129.68" y="127.50" width="5.4" height="2.20" fill="#fff" stroke="#d9534f" stroke-width="1"/>
<line x1="1141.59" x2="1141.59" y1="127.00" y2="134.40" stroke="#d9534f" stroke-width="1"/>
<rect x="1138.89" y="127.80" width="5.4" height="3.70" fill="#fff" stroke="#d9534f" stroke-width="1"/>
<line x1="1150.79" x2="1150.79" y1="121.90" y2="126.60" stroke="#d9534f" stroke-width="1"/>
<rect x="1148.09" y="123.00" width="5.4" height="3.60" fill="#fff" stroke="#d9534f" stroke-width="1"/>
<line x1="1160.00" x2="1160.00" y1="114.40" y2="123.30" stroke="#0a62d4" stroke-width="1"/>
<rect x="1157.00" y="115.90" width="6" height="5.70" fill="#0a62d4"/>
<line x1="5" x2="1166" y1="122.1" y2="122.1" stroke="#8ccc8c" stroke-width="1.8" stroke-dasharray="2.1,1.73"/>
<rect x="6.30" y="352.46" width="6.4" height="43.94" fill="#011d8c"/>
<rect x="15.51" y="353.05" width="6.4" height="43.35" fill="#011d8c"/>
<rect x="24.71" y="354.83" width="6.4" height="41.57" fill="#011d8c"/>
<rect x="33.92" y="355.42" width="6.4" height="40.98" fill="#011d8c"/>
<rect x="43.12" y="346.53" width="6.4" height="49.87" fill="#011d8c"/>
<rect x="52.33" y="344.76" width="6.4" height="51.64" fill="#011d8c"/>
<rect x="61.53" y="348.31" width="6.4" height="48.09" fill="#011d8c"/>
<rect x="70.74" y="355.42" width="6.4" height="40.98" fill="#011d8c"/>
<rect x="79.94" y="358.39" width="6.4" height="38.01" fill="#011d8c"/>
<rect x="89.15" y="356.01" width="6.4" height="40.39" fill="#011d8c"/>
<rect x="98.36" y="335.87" width="6.4" height="60.53" fill="#011d8c"/>
<rect x="107.56" y="349.50" width="6.4" height="46.90" fill="#011d8c"/>
<rect x="116.77" y="347.72" width="6.4" height="48.68" fill="#011d8c"/>
<rect x="125.97" y="339.42" width="6.4" height="56.98" fill="#011d8c"/>
<rect x="135.18" y="347.13" width="6.4" height="49.27" fill="#011d8c"/>
<rect x="144.38" y="359.87" width="6.4" height="36.53" fill="#011d8c"/>
<rect x="153.59" y="359.87" width="6.4" height="36.53" fill="#011d8c"/>
<rect x="162.80" y="352.46" width="6.4" height="43.94" fill="#011d8c"/>
<rect x="172.00" y="347.13" width="6.4" height="49.27" fill="#011d8c"/>
<rect x="181.21" y="352.46" width="6.4" height="43.94" fill="#011d8c"/>
<rect x="190.41" y="347.72" width="6.4" height="48.68" fill="#011d8c"/>
<rect x="199.62" y="354.83" width="6.4" height="41.57" fill="#011d8c"/>
<rect x="208.82" y="351.57" width="6.4" height="44.83" fill="#011d8c"/>
<rect x="218.03" y="344.16" width="6.4" height="52.24" fill="#011d8c"/>
<rect x="227.23" y="349.50" width="6.4" height="46.90" fill="#011d8c"/>
<rect x="236.44" y="357.20" width="6.4" height="39.20" fill="#011d8c"/>
<rect x="245.65" y="357.79" width="6.4" height="38.61" fill="#011d8c"/>
<rect x="254.85" y="361.05" width="6.4" height="35.35" fill="#011d8c"/>
<rect x="264.06" y="357.79" width="6.4" height="38.61" fill="#011d8c"/>
<rect x="273.26" y="357.79" width="6.4" height="38.61" fill="#011d8c"/>
<rect x="282.47" y="357.79" width="6.4" height="38.61" fill="#011d8c"/>
<rect x="291.67" y="348.31" width="6.4" height="48.09" fill="#011d8c"/>
<rect x="300.88" y="353.05" width="6.4" height="43.35" fill="#011d8c"/>
<rect x="310.08" y="357.79" width="6.4" height="38.61" fill="#011d8c"/>
<rect x="319.29" y="340.31" width="6.4" height="56.09" fill="#011d8c"/>
<rect x="328.50" y="353.05" width="6.4" height="43.35" fill="#011d8c"/>
<rect x="337.70" y="361.64" width="6.4" height="34.76" fill="#011d8c"/>
<rect x="346.91" y="352.46" width="6.4" height="43.94" fill="#011d8c"/>
<rect x="356.11" y="355.42" width="6.4" height="40.98" fill="#011d8c"/>
<rect x="365.32" y="350.98" width="6.4" height="45.42" fill="#011d8c"/>
<rect x="374.52" y="341.50" width="6.4" height="54.90" fill="#011d8c"/>
<rect x="383.73" y="357.20" width="6.4" height="39.20" fill="#011d8c"/>
<rect x="392.94" y="359.87" width="6.4" height="36.53" fill="#011d8c"/>
<rect x="402.14" y="354.83" width="6.4" height="41.57" fill="#011d8c"/>
<rect x="411.35" y="353.05" width="6.4" height="43.35" fill="#011d8c"/>
<rect x="420.55" y="353.64" width="6.4" height="42.76" fill="#011d8c"/>
<rect x="429.76" y="335.87" width="6.4" height="60.53" fill="#011d8c"/>
<rect x="438.96" y="349.50" width="6.4" height="46.90" fill="#011d8c"/>
<rect x="448.17" y="344.76" width="6.4" height="51.64" fill="#011d8c"/>
<rect x="457.37" y="343.57" width="6.4" height="52.83" fill="#011d8c"/>
<rect x="466.58" y="339.13" width="6.4" height="57.27" fill="#011d8c"/>
<rect x="475.79" y="347.72" width="6.4" height="48.68" fill="#011d8c"/>
<rect x="484.99" y="350.39" width="6.4" height="46.01" fill="#011d8c"/>
<rect x="494.20" y="357.79" width="6.4" height="38.61" fill="#011d8c"/>
<rect x="503.40" y="357.79" width="6.4" height="38.61" fill="#011d8c"/>
<rect x="512.61" y="357.20" width="6.4" height="39.20" fill="#011d8c"/>
<rect x="521.81" y="361.64" width="6.4" height="34.76" fill="#011d8c"/>
<rect x="531.02" y="362.53" width="6.4" height="33.87" fill="#011d8c"/>
<rect x="540.22" y="359.87" width="6.4" height="36.53" fill="#011d8c"/>
<rect x="549.43" y="351.57" width="6.4" height="44.83" fill="#011d8c"/>
<rect x="558.64" y="354.24" width="6.4" height="42.16" fill="#011d8c"/>
<rect x="567.84" y="320.16" width="6.4" height="76.24" fill="#011d8c"/>
<rect x="577.05" y="354.83" width="6.4" height="41.57" fill="#011d8c"/>
<rect x="586.25" y="353.64" width="6.4" height="42.76" fill="#011d8c"/>
<rect x="595.46" y="353.05" width="6.4" height="43.35" fill="#011d8c"/>
<rect x="604.66" y="353.64" width="6.4" height="42.76" fill="#011d8c"/>
<rect x="613.87" y="361.64" width="6.4" height="34.76" fill="#011d8c"/>
<rect x="623.08" y="364.31" width="6.4" height="32.09" fill="#011d8c"/>
<rect x="632.28" y="363.13" width="6.4" height="33.27" fill="#011d8c"/>
<rect x="641.49" y="357.20" width="6.4" height="39.20" fill="#011d8c"/>
<rect x="650.69" y="354.24" width="6.4" height="42.16" fill="#011d8c"/>
<rect x="659.90" y="339.72" width="6.4" height="56.68" fill="#011d8c"/>
<rect x="669.10" y="357.20" width="6.4" height="39.20" fill="#011d8c"/>
<rect x="678.31" y="361.05" width="6.4" height="35.35" fill="#011d8c"/>
<rect x="687.51" y="362.53" width="6.4" height="33.87" fill="#011d8c"/>
<rect x="696.72" y="364.90" width="6.4" height="31.50" fill="#011d8c"/>
<rect x="705.93" y="345.35" width="6.4" height="51.05" fill="#011d8c"/>
<rect x="715.13" y="362.53" width="6.4" height="33.87" fill="#011d8c"/>
<rect x="724.34" y="357.20" width="6.4" height="39.20" fill="#011d8c"/>
<rect x="733.54" y="357.20" width="6.4" height="39.20" fill="#011d8c"/>
<rect x="742.75" y="354.83" width="6.4" height="41.57" fill="#011d8c"/>
<rect x="751.95" y="351.57" width="6.4" height="44.83" fill="#011d8c"/>
<rect x="761.16" y="353.64" width="6.4" height="42.76" fill="#011d8c"/>
<rect x="770.36" y="347.13" width="6.4" height="49.27" fill="#011d8c"/>
<rect x="779.57" y="350.98" width="6.4" height="45.42" fill="#011d8c"/>
<rect x="788.78" y="353.64" width="6.4" height="42.76" fill="#011d8c"/>
<rect x="797.98" y="354.83" width="6.4" height="41.57" fill="#011d8c"/>
<rect x="807.19" y="355.42" width="6.4" height="40.98" fill="#011d8c"/>
<rect x="816.39" y="353.64" width="6.4" height="42.76" fill="#011d8c"/>
<rect x="825.60" y="347.72" width="6.4" height="48.68" fill="#011d8c"/>
<rect x="834.80" y="351.57" width="6.4" height="44.83" fill="#011d8c"/>
<rect x="844.01" y="348.90" width="6.4" height="47.50" fill="#011d8c"/>
<rect x="853.22" y="359.87" width="6.4" height="36.53" fill="#011d8c"/>
<rect x="862.42" y="356.61" width="6.4" height="39.79" fill="#011d8c"/>
<rect x="871.63" y="354.24" width="6.4" height="42.16" fill="#011d8c"/>
<rect x="880.83" y="360.46" width="6.4" height="35.94" fill="#011d8c"/>
<rect x="890.04" y="366.98" width="6.4" height="29.42" fill="#011d8c"/>
<rect x="899.24" y="364.31" width="6.4" height="32.09" fill="#011d8c"/>
<rect x="908.45" y="356.61" width="6.4" height="39.79" fill="#011d8c"/>
<rect x="917.65" y="344.76" width="6.4" height="51.64" fill="#011d8c"/>
<rect x="926.86" y="351.57" width="6.4" height="44.83" fill="#011d8c"/>
<rect x="936.07" y="357.20" width="6.4" height="39.20" fill="#011d8c"/>
<rect x="945.27" y="356.61" width="6.4" height="39.79" fill="#011d8c"/>
<rect x="954.48" y="343.57" width="6.4" height="52.83" fill="#011d8c"/>
<rect x="963.68" y="331.42" width="6.4" height="64.98" fill="#011d8c"/>
<rect x="972.89" y="321.94" width="6.4" height="74.46" fill="#011d8c"/>
<rect x="982.09" y="292.01" width="6.4" height="104.39" fill="#011d8c"/>
<rect x="991.30" y="304.76" width="6.4" height="91.64" fill="#011d8c"/>
<rect x="1000.50" y="307.72" width="6.4" height="88.68" fill="#011d8c"/>
<rect x="1009.71" y="336.46" width="6.4" height="59.94" fill="#011d8c"/>
<rect x="1018.92" y="332.01" width="6.4" height="64.39" fill="#011d8c"/>
<rect x="1028.12" y="345.35" width="6.4" height="51.05" fill="#011d8c"/>
<rect x="1037.33" y="347.13" width="6.4" height="49.27" fill="#011d8c"/>
<rect x="1046.53" y="353.05" width="6.4" height="43.35" fill="#011d8c"/>
<rect x="1055.74" y="349.50" width="6.4" height="46.90" fill="#011d8c"/>
<rect x="1064.94" y="357.20" width="6.4" height="39.20" fill="#011d8c"/>
<rect x="1074.15" y="356.61" width="6.4" height="39.79" fill="#011d8c"/>
<rect x="1083.36" y="362.53" width="6.4" height="33.87" fill="#011d8c"/>
<rect x="1092.56" y="363.13" width="6.4" height="33.27" fill="#011d8c"/>
<rect x="1101.77" y="364.31" width="6.4" height="32.09" fill="#011d8c"/>
<rect x="1110.97" y="363.13" width="6.4" height="33.27" fill="#011d8c"/>
<rect x="1120.18" y="366.09" width="6.4" height="30.31" fill="#011d8c"/>
<rect x="1129.38" y="364.31" width="6.4" height="32.09" fill="#011d8c"/>
<rect x="1138.59" y="357.79" width="6.4" height="38.61" fill="#011d8c"/>
<rect x="1147.79" y="347.13" width="6.4" height="49.27" fill="#011d8c"/>
<rect x="1157.00" y="365.20" width="6.4" height="31.20" fill="#011d8c"/>
<line x1="985.5" x2="985.5" y1="46.5" y2="273.5" stroke="#555" stroke-width="1"/>
<line x1="985.5" x2="985.5" y1="287.5" y2="397.4" stroke="#555" stroke-width="1"/>
<line x1="5" x2="1165" y1="234.5" y2="234.5" stroke="#555" stroke-width="1"/>
<text x="1166.8" y="276.30" font-size="6.7" fill="#8a8a8a" textLength="19" lengthAdjust="spacingAndGlyphs">30000</text>
<text x="1166.8" y="258.85" font-size="6.7" fill="#8a8a8a" textLength="19" lengthAdjust="spacingAndGlyphs">31000</text>
<text x="1166.8" y="241.40" font-size="6.7" fill="#8a8a8a" textLength="19" lengthAdjust="spacingAndGlyphs">32000</text>
<text x="1166.8" y="223.95" font-size="6.7" fill="#8a8a8a" textLength="19" lengthAdjust="spacingAndGlyphs">33000</text>
<text x="1166.8" y="206.50" font-size="6.7" fill="#8a8a8a" textLength="19" lengthAdjust="spacingAndGlyphs">34000</text>
<text x="1166.8" y="189.05" font-size="6.7" fill="#8a8a8a" textLength="19" lengthAdjust="spacingAndGlyphs">35000</text>
<text x="1166.8" y="171.60" font-size="6.7" fill="#8a8a8a" textLength="19" lengthAdjust="spacingAndGlyphs">36000</text>
<text x="1166.8" y="154.15" font-size="6.7" fill="#8a8a8a" textLength="19" lengthAdjust="spacingAndGlyphs">37000</text>
<text x="1166.8" y="136.70" font-size="6.7" fill="#8a8a8a" textLength="19" lengthAdjust="spacingAndGlyphs">38000</text>
<text x="1166.8" y="119.25" font-size="6.7" fill="#8a8a8a" textLength="19" lengthAdjust="spacingAndGlyphs">39000</text>
<text x="1166.8" y="101.80" font-size="6.7" fill="#8a8a8a" textLength="19" lengthAdjust="spacingAndGlyphs">40000</text>
<text x="1166.8" y="84.35" font-size="6.7" fill="#8a8a8a" textLength="19" lengthAdjust="spacingAndGlyphs">41000</text>
<text x="1166.8" y="66.90" font-size="6.7" fill="#8a8a8a" textLength="19" lengthAdjust="spacingAndGlyphs">42000</text>
<text x="1166.8" y="49.45" font-size="6.7" fill="#8a8a8a" textLength="19" lengthAdjust="spacingAndGlyphs">43000</text>
<text x="1166.8" y="399.80" font-size="6.7" fill="#8a8a8a" textLength="3.7" lengthAdjust="spacingAndGlyphs">0</text>
<text x="1166.8" y="378.10" font-size="6.7" fill="#8a8a8a" textLength="11" lengthAdjust="spacingAndGlyphs">60K</text>
<text x="1166.8" y="356.40" font-size="6.7" fill="#8a8a8a" textLength="15" lengthAdjust="spacingAndGlyphs">120K</text>
<text x="1166.8" y="334.70" font-size="6.7" fill="#8a8a8a" textLength="15" lengthAdjust="spacingAndGlyphs">180K</text>
<text x="1166.8" y="313.00" font-size="6.7" fill="#8a8a8a" textLength="15" lengthAdjust="spacingAndGlyphs">240K</text>
<text x="1166.8" y="291.30" font-size="6.7" fill="#8a8a8a" textLength="15" lengthAdjust="spacingAndGlyphs">300K</text>
<text x="9.30" y="402.5" font-size="6.8" fill="#8a8a8a" text-anchor="middle">1</text>
<text x="46.12" y="402.5" font-size="6.8" fill="#8a8a8a" text-anchor="middle">7</text>
<text x="82.94" y="402.5" font-size="6.8" fill="#8a8a8a" text-anchor="middle">13</text>
<text x="119.77" y="402.5" font-size="6.8" fill="#8a8a8a" text-anchor="middle">19</text>
<text x="156.59" y="402.5" font-size="6.8" fill="#8a8a8a" text-anchor="middle">26</text>
<text x="193.41" y="402.5" font-size="6.8" fill="#8a8a8a" text-anchor="middle">4月</text>
<text x="230.23" y="402.5" font-size="6.8" fill="#8a8a8a" text-anchor="middle">5</text>
<text x="267.06" y="402.5" font-size="6.8" fill="#8a8a8a" text-anchor="middle">11</text>
<text x="303.88" y="402.5" font-size="6.8" fill="#8a8a8a" text-anchor="middle">17</text>
<text x="340.70" y="402.5" font-size="6.8" fill="#8a8a8a" text-anchor="middle">23</text>
<text x="386.73" y="402.5" font-size="6.8" fill="#8a8a8a" text-anchor="middle">5月</text>
<text x="423.55" y="402.5" font-size="6.8" fill="#8a8a8a" text-anchor="middle">9</text>
<text x="460.37" y="402.5" font-size="6.8" fill="#8a8a8a" text-anchor="middle">15</text>
<text x="497.20" y="402.5" font-size="6.8" fill="#8a8a8a" text-anchor="middle">21</text>
<text x="534.02" y="402.5" font-size="6.8" fill="#8a8a8a" text-anchor="middle">27</text>
<text x="580.05" y="402.5" font-size="6.8" fill="#8a8a8a" text-anchor="middle">6月</text>
<text x="616.87" y="402.5" font-size="6.8" fill="#8a8a8a" text-anchor="middle">7</text>
<text x="653.69" y="402.5" font-size="6.8" fill="#8a8a8a" text-anchor="middle">13</text>
<text x="690.51" y="402.5" font-size="6.8" fill="#8a8a8a" text-anchor="middle">19</text>
<text x="727.34" y="402.5" font-size="6.8" fill="#8a8a8a" text-anchor="middle">25</text>
<text x="764.16" y="402.5" font-size="6.8" fill="#8a8a8a" text-anchor="middle">7月</text>
<text x="800.98" y="402.5" font-size="6.8" fill="#8a8a8a" text-anchor="middle">5</text>
<text x="837.80" y="402.5" font-size="6.8" fill="#8a8a8a" text-anchor="middle">11</text>
<text x="874.63" y="402.5" font-size="6.8" fill="#8a8a8a" text-anchor="middle">18</text>
<text x="911.45" y="402.5" font-size="6.8" fill="#8a8a8a" text-anchor="middle">24</text>
<text x="966.68" y="402.5" font-size="6.8" fill="#8a8a8a" text-anchor="middle">8月</text>
<text x="1040.33" y="402.5" font-size="6.8" fill="#8a8a8a" text-anchor="middle">14</text>
<text x="1077.15" y="402.5" font-size="6.8" fill="#8a8a8a" text-anchor="middle">20</text>
<text x="1113.97" y="402.5" font-size="6.8" fill="#8a8a8a" text-anchor="middle">26</text>
<text x="1160.00" y="402.5" font-size="6.8" fill="#8a8a8a" text-anchor="middle">9月</text>
<rect x="1166.2" y="144.3" width="30.7" height="7.50" fill="#9b3dff"/>
<text x="1168" y="150.80" font-size="7.4" fill="#fff" textLength="28" lengthAdjust="spacingAndGlyphs">37103.47</text>
<rect x="1166.2" y="140.3" width="30.7" height="7.30" fill="#4f9b96"/>
<text x="1168" y="146.80" font-size="7.4" fill="#fff" textLength="28" lengthAdjust="spacingAndGlyphs">37391.68</text>
<rect x="1166.2" y="121.3" width="30.7" height="7.50" fill="#b02a1e"/>
<text x="1168" y="127.80" font-size="7.4" fill="#fff" textLength="28" lengthAdjust="spacingAndGlyphs">38474.51</text>
<rect x="1166.2" y="117.8" width="30.7" height="7.50" fill="#138a13"/>
<text x="1168" y="124.30" font-size="7.4" fill="#fff" textLength="28" lengthAdjust="spacingAndGlyphs">38700.87</text>
<rect x="1166.2" y="230.7" width="30.7" height="7.10" fill="#2b2b2b"/>
<text x="1168" y="237.20" font-size="7.4" fill="#fff" textLength="28" lengthAdjust="spacingAndGlyphs">32225.42</text>
<rect x="966.6" y="397.4" width="38.3" height="7.6" fill="#4a4a4a"/>
<text x="985.7" y="403.9" font-size="8" fill="#fff" text-anchor="middle" textLength="36" lengthAdjust="spacingAndGlyphs">2024-08-05</text>
<!-- title lines -->
<text x="6.7" y="44" font-size="9.2" font-weight="bold" fill="#444" textLength="29.3" lengthAdjust="spacingAndGlyphs">日経225</text>
<text x="36" y="44" font-size="9.2" font-weight="normal" fill="#5a5a5a" stroke="#5a5a5a" stroke-width="0.25" textLength="54.0" lengthAdjust="spacingAndGlyphs">【リアルタイム】</text>
<text x="100.7" y="44" font-size="9.2" font-weight="bold" fill="#444" textLength="15.3" lengthAdjust="spacingAndGlyphs">日足</text>
<text x="118" y="44" font-size="9.2" font-weight="bold" fill="#444" textLength="30.5" lengthAdjust="spacingAndGlyphs">ローソク</text>
<text x="155.5" y="44" font-size="9.2" font-weight="normal" fill="#6a6a6a" stroke="#6a6a6a" stroke-width="0.25" textLength="17.5" lengthAdjust="spacingAndGlyphs">日付:</text>
<text x="177" y="44" font-size="9.2" font-weight="bold" fill="#444" textLength="63.5" lengthAdjust="spacingAndGlyphs">2024年08月05日</text>
<text x="248.7" y="44" font-size="9.2" font-weight="normal" fill="#555" stroke="#555" stroke-width="0.25" textLength="14.3" lengthAdjust="spacingAndGlyphs">始値</text>
<text x="266" y="44" font-size="9.2" font-weight="bold" fill="#444" textLength="39.3" lengthAdjust="spacingAndGlyphs">35249.36</text>
<text x="307.5" y="44" font-size="9.2" font-weight="normal" fill="#555" stroke="#555" stroke-width="0.25" textLength="15.2" lengthAdjust="spacingAndGlyphs">高値</text>
<text x="325.3" y="44" font-size="9.2" font-weight="bold" fill="#444" textLength="36.6" lengthAdjust="spacingAndGlyphs">35301.18</text>
<text x="365.9" y="44" font-size="9.2" font-weight="normal" fill="#555" stroke="#555" stroke-width="0.25" textLength="14.9" lengthAdjust="spacingAndGlyphs">安値</text>
<text x="383.5" y="44" font-size="9.2" font-weight="bold" fill="#444" textLength="37.8" lengthAdjust="spacingAndGlyphs">31156.12</text>
<text x="424.8" y="44" font-size="9.2" font-weight="normal" fill="#555" stroke="#555" stroke-width="0.25" textLength="14.7" lengthAdjust="spacingAndGlyphs">終値</text>
<text x="442.7" y="44" font-size="9.2" font-weight="bold" fill="#444" textLength="37.8" lengthAdjust="spacingAndGlyphs">31458.42</text>
<text x="6.7" y="55" font-size="9.2" font-weight="normal" fill="#3a3a3a" stroke="#3a3a3a" stroke-width="0.25" textLength="80.0" lengthAdjust="spacingAndGlyphs">単純移動平均線 (SMA)</text>
<text x="89.6" y="55" font-size="9.2" font-weight="normal" fill="#5a5a5a" stroke="#5a5a5a" stroke-width="0.25" textLength="55.1" lengthAdjust="spacingAndGlyphs">3,5,25,75,200:</text>
<text x="148" y="55" font-size="9.2" font-weight="bold" fill="#1e90ff" textLength="38.3" lengthAdjust="spacingAndGlyphs">35164.82</text>
<text x="189.3" y="55" font-size="9.2" font-weight="normal" fill="#1e90ff" stroke="#1e90ff" stroke-width="0.25" textLength="10.7" lengthAdjust="spacingAndGlyphs">(3)</text>
<text x="203" y="55" font-size="9.2" font-weight="bold" fill="#b02a1e" textLength="38.3" lengthAdjust="spacingAndGlyphs">36624.44</text>
<text x="243.8" y="55" font-size="9.2" font-weight="normal" fill="#b02a1e" stroke="#b02a1e" stroke-width="0.25" textLength="10.0" lengthAdjust="spacingAndGlyphs">(5)</text>
<text x="258.8" y="55" font-size="9.2" font-weight="bold" fill="#a64dff" textLength="37.2" lengthAdjust="spacingAndGlyphs">39510.36</text>
<text x="298.7" y="55" font-size="9.2" font-weight="normal" fill="#a64dff" stroke="#a64dff" stroke-width="0.25" textLength="16.8" lengthAdjust="spacingAndGlyphs">(25)</text>
<text x="318.7" y="55" font-size="9.2" font-weight="bold" fill="#ff9f9a" textLength="38.1" lengthAdjust="spacingAndGlyphs">38869.10</text>
<text x="359.2" y="55" font-size="9.2" font-weight="normal" fill="#ff9f9a" stroke="#ff9f9a" stroke-width="0.25" textLength="15.5" lengthAdjust="spacingAndGlyphs">(75)</text>
<text x="377.9" y="55" font-size="9.2" font-weight="bold" fill="#4f9b96" textLength="38.1" lengthAdjust="spacingAndGlyphs">36856.06</text>
<text x="418.7" y="55" font-size="9.2" font-weight="normal" fill="#4f9b96" stroke="#4f9b96" stroke-width="0.25" textLength="20.8" lengthAdjust="spacingAndGlyphs">(200)</text>
<text x="6.5" y="285" font-size="9.2" font-weight="normal" fill="#3a3a3a" stroke="#3a3a3a" stroke-width="0.25" textLength="65.8" lengthAdjust="spacingAndGlyphs">出来高 (Volume):</text>
<text x="75" y="285" font-size="9.2" font-weight="bold" fill="#1a3a9a" textLength="30.0" lengthAdjust="spacingAndGlyphs">285570</text>
</svg>
</body></html>
